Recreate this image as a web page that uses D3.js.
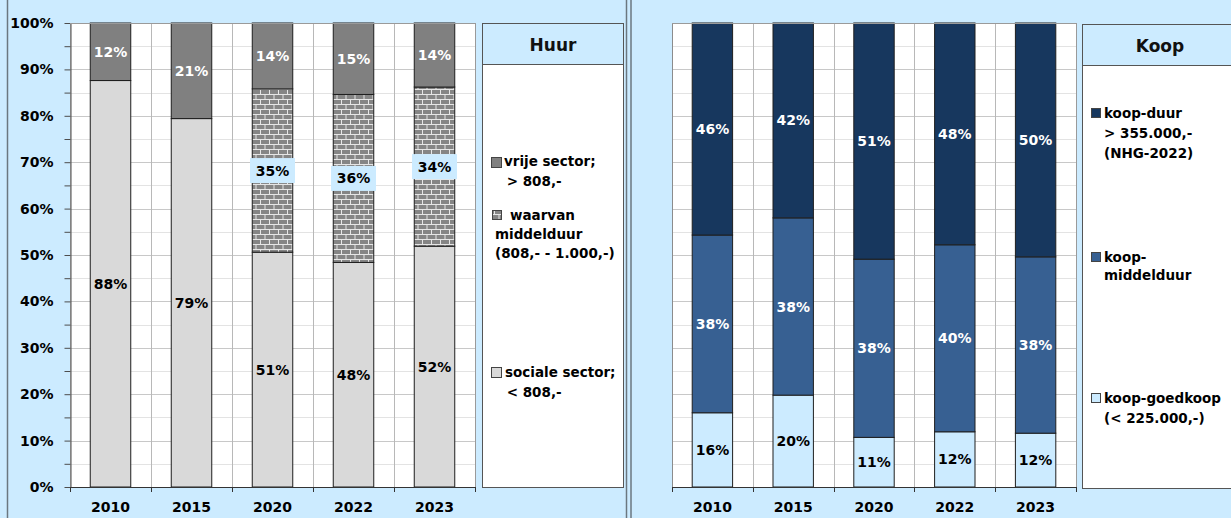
<!DOCTYPE html>
<html>
<head>
<meta charset="utf-8">
<script src="https://cdn.jsdelivr.net/npm/d3@7"></script>
<style>
  html, body { margin: 0; padding: 0; background: #CCEBFF; }
  svg { display: block; }
  text { font-family: "DejaVu Sans", sans-serif; font-weight: bold; }
</style>
</head>
<body>
<svg id="chart" width="1231" height="518"></svg>
<script>
// Years on the x axis (shared by both panels)
const years = ["2010", "2015", "2020", "2022", "2023"];

// Huurwoningen: share per price segment
const huurSociaal    = [0.876, 0.794, 0.506, 0.484, 0.519];
const huurMiddelduur = [0.000, 0.000, 0.352, 0.362, 0.343];
const huurVrij       = [0.124, 0.206, 0.142, 0.154, 0.138];

// Koopwoningen: share per price segment
const koopGoedkoop   = [0.160, 0.198, 0.107, 0.119, 0.116];
const koopMiddelduur = [0.383, 0.382, 0.384, 0.403, 0.380];
const koopDuur       = [0.457, 0.420, 0.509, 0.478, 0.504];

// Y axis tick values
const yMajorTicks = [0, 0.1, 0.2, 0.3, 0.4, 0.5, 0.6, 0.7, 0.8, 0.9, 1.0];
const yMinorTicks = [0.05, 0.15, 0.25, 0.35, 0.45, 0.55, 0.65, 0.75, 0.85, 0.95];

// Legend texts
const huurTitle = "Huur";
const huurLegend = {
  vrij: ["vrije sector;", " > 808,-"],
  middelduur: ["waarvan", "middelduur", "(808,- - 1.000,-)"],
  sociaal: ["sociale sector;", " < 808,-"]
};
const koopTitle = "Koop";
const koopLegend = {
  duur: ["koop-duur", "> 355.000,-", "(NHG-2022)"],
  middelduur: ["koop-", "middelduur"],
  goedkoop: ["koop-goedkoop", "(< 225.000,-)"]
};

const BG = "#CCEBFF";
const svg = d3.select("#chart");

// Brick hatch for the mid-rent segment
const defs = svg.append("defs");
const brick = defs.append("pattern")
  .attr("id", "brick").attr("patternUnits", "userSpaceOnUse")
  .attr("width", 9).attr("height", 10);
brick.append("rect").attr("width", 9).attr("height", 10).attr("fill", "#e6e6e6");
brick.append("rect").attr("x", 0).attr("y", 0).attr("width", 8).attr("height", 4).attr("fill", "#858585");
brick.append("rect").attr("x", -4.5).attr("y", 5).attr("width", 8).attr("height", 4).attr("fill", "#858585");
brick.append("rect").attr("x", 4.5).attr("y", 5).attr("width", 8).attr("height", 4).attr("fill", "#858585");

// Panel frames
svg.append("line").attr("x1", 7.5).attr("x2", 7.5).attr("y1", 0).attr("y2", 518)
  .attr("stroke", "#6b7780").attr("stroke-width", 1.5);
svg.append("line").attr("x1", 626.5).attr("x2", 626.5).attr("y1", 0).attr("y2", 518)
  .attr("stroke", "#6b7780").attr("stroke-width", 1.5);
svg.append("line").attr("x1", 631).attr("x2", 631).attr("y1", 0).attr("y2", 518)
  .attr("stroke", "#6b7780").attr("stroke-width", 1.5);

const y = d3.scaleLinear().domain([0, 1]).range([487, 23]);
const pct = d3.format(".0%");

function drawPanel(opts) {
  const g = svg.append("g");
  const x = d3.scaleBand().domain(years).range([opts.x0, opts.x1])
    .paddingInner(0.5).paddingOuter(0.25);
  const step = x.step();
  const boundaries = d3.range(years.length + 1).map(i => opts.x0 + i * step);

  // plot background
  g.append("rect").attr("x", opts.x0).attr("y", y(1))
    .attr("width", opts.x1 - opts.x0).attr("height", y(0) - y(1)).attr("fill", "#fff");

  // gridlines
  g.append("g").selectAll("line").data(yMinorTicks).join("line")
    .attr("x1", opts.x0).attr("x2", opts.x1)
    .attr("y1", d => Math.round(y(d)) + 0.5).attr("y2", d => Math.round(y(d)) + 0.5)
    .attr("stroke", "#e3e3e3");
  g.append("g").selectAll("line").data(yMajorTicks).join("line")
    .attr("x1", opts.x0).attr("x2", opts.x1)
    .attr("y1", d => Math.round(y(d)) + 0.5).attr("y2", d => Math.round(y(d)) + 0.5)
    .attr("stroke", "#c8c8c8");
  g.append("g").selectAll("line").data(boundaries).join("line")
    .attr("x1", d => Math.round(d) + 0.5).attr("x2", d => Math.round(d) + 0.5)
    .attr("y1", y(1)).attr("y2", y(0))
    .attr("stroke", "#b8b8b8");

  // stacked bars
  const stackData = years.map((yr, i) => {
    const row = { year: yr };
    opts.series.forEach(s => { row[s.key] = s.values[i]; });
    return row;
  });
  const stack = d3.stack().keys(opts.series.map(s => s.key));
  const layers = stack(stackData);

  layers.forEach((layer, li) => {
    const s = opts.series[li];
    const segs = layer.map(d => ({ year: d.data.year, y0: d[0], y1: d[1], v: d[1] - d[0] }))
      .filter(d => d.v > 0);
    g.append("g").selectAll("rect").data(segs).join("rect")
      .attr("x", d => x(d.year)).attr("width", x.bandwidth())
      .attr("y", d => y(d.y1)).attr("height", d => y(d.y0) - y(d.y1))
      .attr("fill", s.fill).attr("stroke", "#1e1e1e").attr("stroke-width", 1);
  });

  layers.forEach((layer, li) => {
    const s = opts.series[li];
    const segs = layer.map(d => ({ year: d.data.year, y0: d[0], y1: d[1], v: d[1] - d[0] }))
      .filter(d => d.v > 0);
    const lg = g.append("g").selectAll("g").data(segs).join("g")
      .attr("transform", d => `translate(${x(d.year) + x.bandwidth() / 2},${(y(d.y0) + y(d.y1)) / 2})`);
    if (s.labelBox) {
      lg.append("rect").attr("x", -22.5).attr("y", -12.5).attr("width", 45).attr("height", 25)
        .attr("fill", BG);
    }
    lg.append("text").attr("text-anchor", "middle").attr("dominant-baseline", "central")
      .attr("font-size", 14).attr("fill", s.textColor)
      .text(d => pct(d.v));
  });

  // left axis
  if (opts.yLabels) {
    const ax = g.append("g").attr("transform", `translate(${opts.x0 + 0.5},0)`);
    ax.append("g").call(d3.axisLeft(y).tickValues(yMinorTicks).tickSize(6).tickFormat(""))
      .call(a => a.select(".domain").remove())
      .call(a => a.selectAll("line").attr("stroke", "#4d4d4d"));
    ax.append("g").call(d3.axisLeft(y).tickValues(yMajorTicks).tickSize(6).tickSizeOuter(0).tickPadding(11).tickFormat(pct))
      .call(a => a.select(".domain").attr("stroke", "#4d4d4d"))
      .call(a => a.selectAll("line").attr("stroke", "#4d4d4d"))
      .call(a => a.selectAll("text").attr("font-size", 14).attr("fill", "#000")
        .attr("font-family", "DejaVu Sans").attr("font-weight", "bold"));
  } else {
    g.append("line").attr("x1", opts.x0 + 0.5).attr("x2", opts.x0 + 0.5)
      .attr("y1", y(1)).attr("y2", y(0)).attr("stroke", "#8c8c8c");
  }
  // top and right frame of plot area
  g.append("line").attr("x1", opts.x0).attr("x2", opts.x1)
    .attr("y1", Math.round(y(1)) + 0.5).attr("y2", Math.round(y(1)) + 0.5).attr("stroke", "#9a9a9a");
  g.append("line").attr("x1", Math.round(opts.x1) + 0.5).attr("x2", Math.round(opts.x1) + 0.5)
    .attr("y1", y(1)).attr("y2", y(0)).attr("stroke", "#9a9a9a");

  // bottom axis
  const bx = g.append("g").attr("transform", `translate(0,${y(0)})`);
  bx.call(d3.axisBottom(x).tickSize(0).tickSizeOuter(0).tickPadding(15))
    .call(a => a.select(".domain").attr("stroke", "#333"))
    .call(a => a.selectAll("text").attr("font-size", 14).attr("fill", "#000")
      .attr("font-family", "DejaVu Sans").attr("font-weight", "bold"));
  bx.append("g").selectAll("line").data(boundaries).join("line")
    .attr("x1", d => Math.round(d) + 0.5).attr("x2", d => Math.round(d) + 0.5)
    .attr("y1", 0).attr("y2", 5).attr("stroke", "#333");
}

function drawLegendBox(opts) {
  const g = svg.append("g");
  g.append("rect").attr("x", opts.x + 0.5).attr("y", opts.y0 + 0.5)
    .attr("width", opts.w).attr("height", opts.y1 - opts.y0)
    .attr("fill", "#fff").attr("stroke", "#555");
  g.append("rect").attr("x", opts.x + 0.5).attr("y", opts.y0 + 0.5)
    .attr("width", opts.w).attr("height", opts.headH)
    .attr("fill", BG).attr("stroke", "#555");
  g.append("text").attr("x", opts.titleX).attr("y", opts.y0 + opts.headH / 2 + 1)
    .attr("text-anchor", "middle").attr("dominant-baseline", "central")
    .attr("font-size", 17).attr("fill", "#111").text(opts.title);

  opts.items.forEach(it => {
    g.append("rect").attr("x", it.sx + 0.5).attr("y", it.sy + 0.5)
      .attr("width", it.ss).attr("height", it.ss)
      .attr("fill", it.fill).attr("stroke", "#444");
    it.lines.forEach((t, i) => {
      g.append("text").attr("x", it.tx[i]).attr("y", it.ty + i * it.lh)
        .attr("dominant-baseline", "central").attr("font-size", 13.5).attr("fill", "#000")
        .attr("xml:space", "preserve")
        .text(t);
    });
  });
}

// Huur panel
drawPanel({
  x0: 70, x1: 475, yLabels: true,
  series: [
    { key: "sociaal", values: huurSociaal, fill: "#D9D9D9", textColor: "#000" },
    { key: "middelduur", values: huurMiddelduur, fill: "url(#brick)", textColor: "#000", labelBox: true },
    { key: "vrij", values: huurVrij, fill: "#808080", textColor: "#fff" }
  ]
});
drawLegendBox({
  x: 482, y0: 23, y1: 487, w: 141, headH: 41, titleX: 553, title: huurTitle,
  items: [
    { sx: 491, sy: 157, ss: 10, fill: "#808080", lines: huurLegend.vrij, tx: [504, 502], ty: 161, lh: 20 },
    { sx: 492, sy: 210, ss: 9, fill: "url(#brick)", lines: huurLegend.middelduur, tx: [510, 495, 495], ty: 215, lh: 19 },
    { sx: 491, sy: 367, ss: 10, fill: "#D9D9D9", lines: huurLegend.sociaal, tx: [505, 502], ty: 372, lh: 20 }
  ]
});

// Koop panel
drawPanel({
  x0: 672, x1: 1076, yLabels: false,
  series: [
    { key: "goedkoop", values: koopGoedkoop, fill: "#CCEBFF", textColor: "#000" },
    { key: "middelduur", values: koopMiddelduur, fill: "#376092", textColor: "#fff" },
    { key: "duur", values: koopDuur, fill: "#17375E", textColor: "#fff" }
  ]
});
drawLegendBox({
  x: 1082, y0: 24, y1: 488, w: 160, headH: 41, titleX: 1160, title: koopTitle,
  items: [
    { sx: 1091, sy: 108, ss: 9, fill: "#17375E", lines: koopLegend.duur, tx: [1104, 1104, 1104], ty: 113, lh: 20 },
    { sx: 1091, sy: 252, ss: 9, fill: "#376092", lines: koopLegend.middelduur, tx: [1104, 1104], ty: 257, lh: 18 },
    { sx: 1091, sy: 393, ss: 9, fill: "#CCEBFF", lines: koopLegend.goedkoop, tx: [1104, 1104], ty: 398, lh: 20 }
  ]
});
</script>
</body>
</html>
